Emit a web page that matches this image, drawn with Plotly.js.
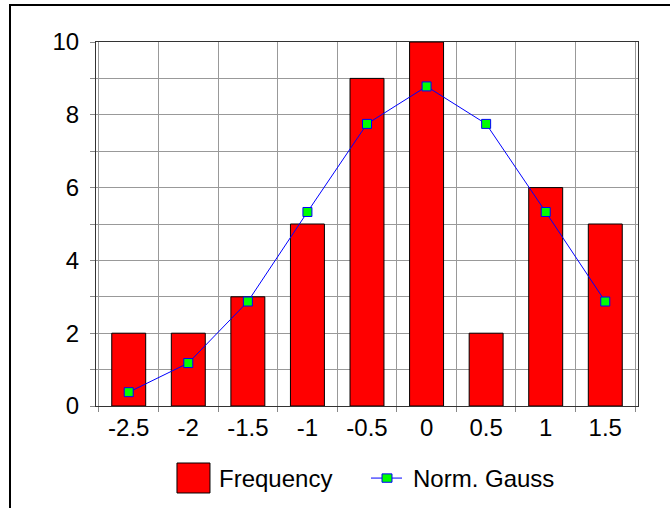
<!DOCTYPE html>
<html><head><meta charset="utf-8">
<script src="https://cdn.plot.ly/plotly-3.0.1.min.js"></script>
<style>
html,body{margin:0;padding:0;background:#fff;overflow:hidden}
#frame{position:absolute;left:9px;top:4px;width:700px;height:600px;border:2px solid #000;box-sizing:border-box;pointer-events:none;z-index:5}
#chart{width:670px;height:508px}
</style></head>
<body>
<div id="frame"></div>
<div id="chart"></div>
<script>
const categories = ["-2.5","-2","-1.5","-1","-0.5","0","0.5","1","1.5"];
const frequency = [2,2,3,5,9,10,2,6,5];
const gauss = [0.38,1.18,2.87,5.33,7.75,8.78,7.75,5.33,2.87];
const seriesNames = ["Frequency","Norm. Gauss"];

const FONT = "Liberation Sans, Arial, sans-serif";

const data = [
 {type:"bar", name:seriesNames[0], x:categories, y:frequency, showlegend:false,
  marker:{color:"#ff0000", line:{color:"#000", width:1}}},
 {type:"scatter", mode:"lines+markers", name:seriesNames[1], x:categories, y:gauss, showlegend:false,
  line:{color:"#0000ff", width:1},
  marker:{symbol:"square", size:9, color:"#00ff00", line:{color:"#0000ff", width:1}}}
];

// custom legend (paper coords)
const ly = -0.198;
const shapes = [
 {type:"rect", xref:"paper", yref:"paper", x0:0.1494, x1:0.2103, y0:-0.239, y1:-0.1566,
  fillcolor:"#ff0000", line:{color:"#000", width:1}},
 {type:"line", xref:"paper", yref:"paper", x0:0.5074, x1:0.5646, y0:ly, y1:ly,
  line:{color:"#0000ff", width:1}},
 {type:"rect", xref:"paper", yref:"paper", x0:0.5277, x1:0.5461, y0:ly-0.0115, y1:ly+0.0115,
  fillcolor:"#00ff00", line:{color:"#0000ff", width:1}}
];
const annotations = [
 {xref:"paper", yref:"paper", x:0.2232, y:ly, xanchor:"left", yanchor:"middle", showarrow:false,
  text:seriesNames[0], font:{family:FONT, size:24, color:"#000"}},
 {xref:"paper", yref:"paper", x:0.5812, y:ly, xanchor:"left", yanchor:"middle", showarrow:false,
  text:seriesNames[1], font:{family:FONT, size:24, color:"#000"}}
];

const layout = {
 width:670, height:508,
 margin:{l:96, r:32, t:42, b:102},
 paper_bgcolor:"#fff", plot_bgcolor:"#fff",
 font:{family:FONT, color:"#000", size:24},
 bargap:0.43,
 showlegend:false,
 shapes:shapes, annotations:annotations,
 xaxis:{type:"category", tickson:"boundaries", ticks:"outside", ticklen:5, tickcolor:"#888",
   showgrid:true, gridcolor:"#999", gridwidth:1,
   showline:true, linecolor:"#333", mirror:true, linewidth:1, tickfont:{size:24}},
 yaxis:{range:[0,10], dtick:2, tick0:0, ticks:"outside", ticklen:5, tickcolor:"#888",
   ticklabelstandoff:6,
   showgrid:true, gridcolor:"#999", gridwidth:1, zeroline:false,
   minor:{dtick:1, showgrid:true, gridcolor:"#999", ticks:"outside", ticklen:5, tickcolor:"#888"},
   showline:true, linecolor:"#333", mirror:true, linewidth:1, tickfont:{size:24}}
};
Plotly.newPlot("chart", data, layout, {displayModeBar:false, staticPlot:true});
</script>
</body></html>
